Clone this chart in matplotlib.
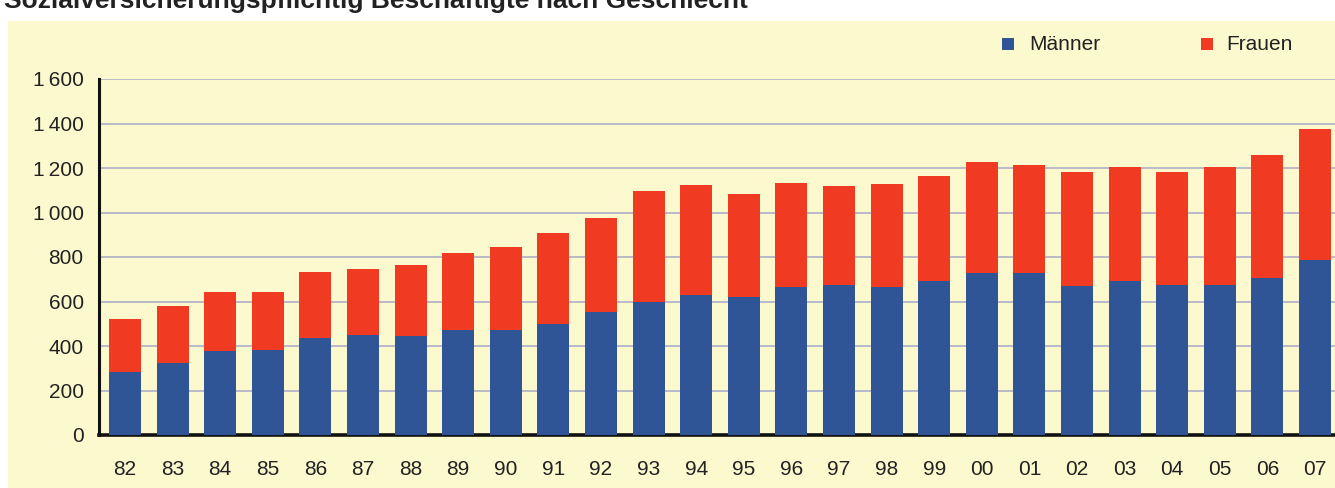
import matplotlib.pyplot as plt
import matplotlib.patches as mpatches
import numpy as np

plt.rcParams['font.family'] = ['Liberation Sans', 'DejaVu Sans']

# Sozialversicherungspflichtig Beschäftigte (in Tausend)
jahre = ["82", "83", "84", "85", "86", "87", "88", "89", "90", "91", "92", "93", "94",
         "95", "96", "97", "98", "99", "00", "01", "02", "03", "04", "05", "06", "07"]
maenner = [283, 323, 379, 382, 435, 450, 443, 474, 474, 500, 552, 598, 630,
           618, 664, 674, 666, 690, 730, 730, 670, 690, 672, 672, 705, 785]
gesamt = [522, 578, 641, 644, 732, 748, 763, 818, 845, 908, 975, 1095, 1122,
          1085, 1133, 1120, 1126, 1163, 1225, 1212, 1180, 1205, 1183, 1206, 1260, 1375]
frauen = [g - m for g, m in zip(gesamt, maenner)]

y_ticks = [0, 200, 400, 600, 800, 1000, 1200, 1400, 1600]
y_labels = ["0", "200", "400", "600", "800", "1\u2009000", "1\u2009200", "1\u2009400", "1\u2009600"]

blau = "#2f5597"
rot = "#f03a22"
gelb = "#fcf9cf"

W, H = 1335, 488
fig = plt.figure(figsize=(W / 100, H / 100), dpi=100, facecolor="white")

# gelber Hintergrund
fig.patches.append(mpatches.Rectangle((8 / W, 0), 1 - 8 / W, (H - 21) / H,
                                      transform=fig.transFigure, facecolor=gelb,
                                      edgecolor="none", zorder=-10))

fig.text(4 / W, 1 - 8 / H, "Sozialversicherungspflichtig Beschäftigte nach Geschlecht",
         fontsize=19, fontweight="bold", color="#222222", va="baseline", ha="left")

ax = fig.add_axes([99 / W, 53 / H, (W - 99) / W, (435 - 79) / H])
ax.set_facecolor("none")

x = np.arange(len(jahre))
ax.bar(x, maenner, width=0.67, color=blau, zorder=3)
ax.bar(x, frauen, width=0.67, bottom=maenner, color=rot, zorder=3)

ax.set_xlim(-0.546, 25.42)
ax.set_ylim(0, 1600)
ax.set_yticks(y_ticks)
ax.set_yticklabels(y_labels)
ax.set_xticks(x)
ax.set_xticklabels(jahre)
ax.tick_params(axis="both", length=0, labelsize=15, colors="#222222")
ax.tick_params(axis="y", pad=11)
ax.tick_params(axis="x", pad=18)

for v in y_ticks[1:]:
    ax.axhline(v, color="#b4b4c8", lw=1.3, zorder=1)

for s in ["top", "right"]:
    ax.spines[s].set_visible(False)
ax.spines["left"].set_linewidth(2.2)
ax.spines["bottom"].set_linewidth(2.6)
ax.spines["left"].set_color("#111111")
ax.spines["bottom"].set_color("#111111")

# Legende
fig.patches.append(mpatches.Rectangle((1002 / W, 1 - 50 / H), 12 / W, 12 / H,
                                      transform=fig.transFigure, facecolor=blau,
                                      edgecolor="none"))
fig.text(1029 / W, 1 - 44 / H, "Männer", fontsize=15, color="#222222", va="center")
fig.patches.append(mpatches.Rectangle((1201 / W, 1 - 50 / H), 12 / W, 12 / H,
                                      transform=fig.transFigure, facecolor=rot,
                                      edgecolor="none"))
fig.text(1226 / W, 1 - 44 / H, "Frauen", fontsize=15, color="#222222", va="center")

fig.savefig("out.png", dpi=100, facecolor="white")
